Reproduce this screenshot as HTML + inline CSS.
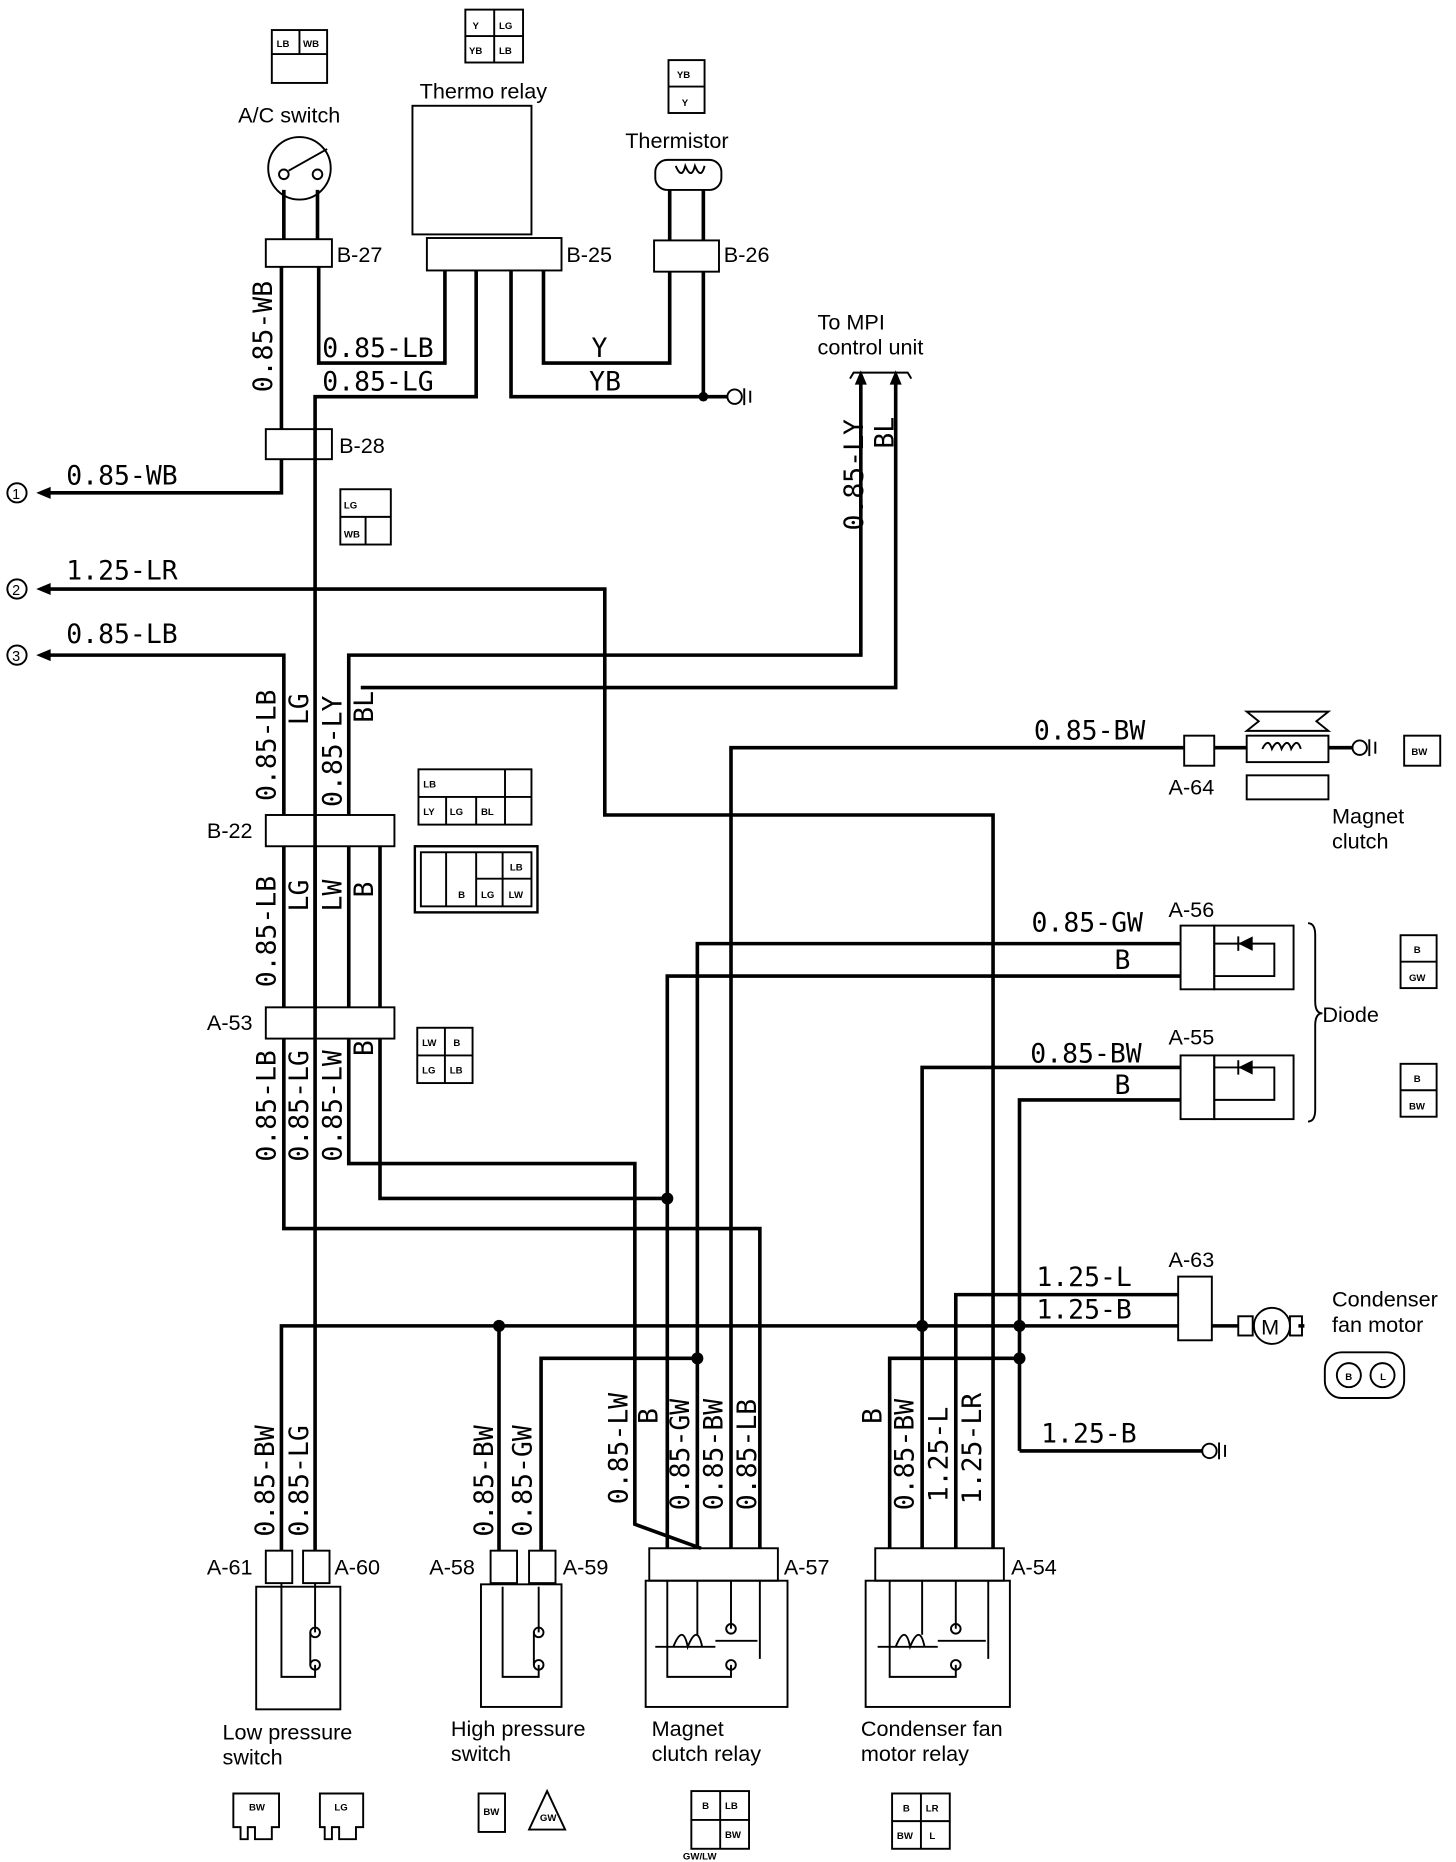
<!DOCTYPE html>
<html><head><meta charset="utf-8"><style>
html,body{margin:0;padding:0;background:#fff}
svg{display:block}
.w{stroke:#000;stroke-width:3;fill:none}
.t{stroke:#000;stroke-width:1.6;fill:none}
.l{font-family:"DejaVu Sans Mono","Liberation Mono",monospace;font-size:22px;fill:#000}
.s{font-family:"Liberation Sans",sans-serif;font-size:18px;fill:#000}
.c{font-family:"Liberation Sans",sans-serif;font-size:8px;font-weight:bold;fill:#000}
</style></head><body>
<svg width="1456" height="1862" viewBox="0 0 1211 1549" xmlns="http://www.w3.org/2000/svg">
<rect width="1211" height="1549" fill="#fff"/>
<g class="t"><rect x="226" y="25" width="46" height="44"/><line x1="226" y1="45" x2="272" y2="45"/><line x1="249" y1="25" x2="249" y2="45"/>
<rect x="387" y="8" width="48" height="44"/><line x1="387" y1="30" x2="435" y2="30"/><line x1="411" y1="8" x2="411" y2="52"/>
<rect x="556" y="50" width="30" height="44"/><line x1="556" y1="72" x2="586" y2="72"/>
<rect x="283" y="407" width="42" height="46"/><line x1="283" y1="430" x2="325" y2="430"/><line x1="304" y1="430" x2="304" y2="453"/></g>
<text class="c" x="230" y="39">LB</text><text class="c" x="252" y="39">WB</text>
<text class="c" x="393" y="24">Y</text><text class="c" x="415" y="24">LG</text><text class="c" x="390" y="45">YB</text><text class="c" x="415" y="45">LB</text>
<text class="c" x="563" y="65">YB</text><text class="c" x="567" y="88">Y</text>
<text class="c" x="286" y="423">LG</text><text class="c" x="286" y="447">WB</text>
<text class="s" x="198" y="102">A/C switch</text>
<text class="s" x="349" y="82">Thermo relay</text>
<text class="s" x="520" y="123">Thermistor</text>
<circle class="t" cx="249" cy="140" r="26" stroke-width="2.5"/>
<circle class="t" cx="236" cy="145" r="4"/><circle class="t" cx="264" cy="145" r="4"/>
<line class="t" x1="240" y1="142" x2="272" y2="124"/>
<rect class="t" x="343" y="88" width="99" height="107" stroke-width="2"/>
<rect class="t" x="355" y="198" width="112" height="27" stroke-width="2"/>
<rect class="t" x="545" y="133" width="55" height="25" rx="10" stroke-width="2"/>
<path class="t" d="M562 138 q5 12 8 0 q5 12 8 0 q5 12 8 0"/>
<rect class="t" x="221" y="199" width="55" height="23" stroke-width="2"/>
<rect class="t" x="544" y="200" width="54" height="26" stroke-width="2"/>
<rect class="t" x="221" y="357" width="55" height="25" stroke-width="2"/>
<text class="s" x="280" y="218">B-27</text><text class="s" x="471" y="218">B-25</text><text class="s" x="602" y="218">B-26</text><text class="s" x="282" y="377">B-28</text>
<g class="w">
<path d="M236 158V199M264 158V199M234 222V357M234 382V410H40"/>
<path d="M265 222V302H370V225M262 382V330H396V225"/>
<path d="M452 225V302H557V226M425 225V330H585V226M557 200V158M585 200V158M585 330H605"/>
<path d="M262 382V1290"/>
<path d="M40 490H503V678H826V1288"/>
<path d="M40 545H236V678M716 318V545H290V678M745 318V572H300"/>
<path d="M236 704V838M262 704V838M290 704V838M316 704V838"/>
<path d="M236 864V1022H632V1288M290 864V968H528V1268L583 1288M316 864V997H555"/>
<path d="M608 1288V622H985M1010 622H1037M1105 622H1125"/>
<path d="M580 1288V785H982M555 1288V812H982"/>
<path d="M767 1288V888H982M848 1207V915H982M848 1207H1000"/>
<path d="M234 1290V1103H850M415 1290V1103M450 1290V1130H580M740 1288V1130H848"/>
<path d="M795 1288V1077H980M848 1103H980M1008 1103H1030M1080 1103H1085"/>
</g>
<g fill="#000"><circle cx="585" cy="330" r="4"/><circle cx="555" cy="997" r="5"/><circle cx="415" cy="1103" r="5"/><circle cx="767" cy="1103" r="5"/><circle cx="848" cy="1103" r="5"/><circle cx="848" cy="1130" r="5"/><circle cx="580" cy="1130" r="5"/>
<path d="M30 410l12-5v10zM30 490l12-5v10zM30 545l12-5v10zM716 308l-5 12h10zM745 308l-5 12h10z"/></g>
<g class="t" stroke-width="2"><circle cx="611" cy="330" r="6"/><line x1="619" y1="323" x2="619" y2="337"/><line x1="624" y1="325" x2="624" y2="335"/>
<circle cx="1006" cy="1207" r="6"/><line x1="1014" y1="1200" x2="1014" y2="1214"/><line x1="1019" y1="1202" x2="1019" y2="1212"/>
<circle cx="1131" cy="622" r="6"/><line x1="1139" y1="615" x2="1139" y2="629"/><line x1="1144" y1="617" x2="1144" y2="627"/>
<polyline points="707,315 710,310 755,310 758,315"/></g>
<circle cx="14" cy="410" r="8" class="t"/><text x="10" y="415" font-size="12" font-family="Liberation Sans">1</text>
<circle cx="14" cy="490" r="8" class="t"/><text x="10" y="495" font-size="12" font-family="Liberation Sans">2</text>
<circle cx="14" cy="545" r="8" class="t"/><text x="10" y="550" font-size="12" font-family="Liberation Sans">3</text>
<text class="s" x="680" y="274">To MPI</text><text class="s" x="680" y="295">control unit</text>
<text class="l" x="268" y="297">0.85-LB</text><text class="l" x="268" y="325">0.85-LG</text>
<text class="l" x="492" y="297">Y</text><text class="l" x="490" y="325">YB</text>
<text class="l" x="55" y="403">0.85-WB</text><text class="l" x="55" y="482">1.25-LR</text><text class="l" x="55" y="535">0.85-LB</text>
<text class="l" x="860" y="615">0.85-BW</text><text class="l" x="858" y="775">0.85-GW</text><text class="l" x="927" y="806">B</text>
<text class="l" x="857" y="884">0.85-BW</text><text class="l" x="927" y="910">B</text>
<text class="l" x="862" y="1070">1.25-L</text><text class="l" x="862" y="1097">1.25-B</text><text class="l" x="866" y="1200">1.25-B</text>
<g class="l">
<text transform="translate(226,280) rotate(-90)" text-anchor="middle">0.85-WB</text>
<text transform="translate(718,395) rotate(-90)" text-anchor="middle">0.85-LY</text>
<text transform="translate(743,360) rotate(-90)" text-anchor="middle">BL</text>
<text transform="translate(229,620) rotate(-90)" text-anchor="middle">0.85-LB</text>
<text transform="translate(256,590) rotate(-90)" text-anchor="middle">LG</text>
<text transform="translate(284,625) rotate(-90)" text-anchor="middle">0.85-LY</text>
<text transform="translate(310,588) rotate(-90)" text-anchor="middle">BL</text>
<text transform="translate(229,775) rotate(-90)" text-anchor="middle">0.85-LB</text>
<text transform="translate(256,745) rotate(-90)" text-anchor="middle">LG</text>
<text transform="translate(284,745) rotate(-90)" text-anchor="middle">LW</text>
<text transform="translate(310,740) rotate(-90)" text-anchor="middle">B</text>
<text transform="translate(229,920) rotate(-90)" text-anchor="middle">0.85-LB</text>
<text transform="translate(256,920) rotate(-90)" text-anchor="middle">0.85-LG</text>
<text transform="translate(284,920) rotate(-90)" text-anchor="middle">0.85-LW</text>
<text transform="translate(310,872) rotate(-90)" text-anchor="middle">B</text>
<text transform="translate(228,1232) rotate(-90)" text-anchor="middle">0.85-BW</text>
<text transform="translate(256,1232) rotate(-90)" text-anchor="middle">0.85-LG</text>
<text transform="translate(410,1232) rotate(-90)" text-anchor="middle">0.85-BW</text>
<text transform="translate(442,1232) rotate(-90)" text-anchor="middle">0.85-GW</text>
<text transform="translate(522,1205) rotate(-90)" text-anchor="middle">0.85-LW</text>
<text transform="translate(547,1178) rotate(-90)" text-anchor="middle">B</text>
<text transform="translate(573,1210) rotate(-90)" text-anchor="middle">0.85-GW</text>
<text transform="translate(601,1210) rotate(-90)" text-anchor="middle">0.85-BW</text>
<text transform="translate(629,1210) rotate(-90)" text-anchor="middle">0.85-LB</text>
<text transform="translate(733,1178) rotate(-90)" text-anchor="middle">B</text>
<text transform="translate(760,1210) rotate(-90)" text-anchor="middle">0.85-BW</text>
<text transform="translate(788,1210) rotate(-90)" text-anchor="middle">1.25-L</text>
<text transform="translate(816,1205) rotate(-90)" text-anchor="middle">1.25-LR</text>
</g>
<rect class="t" x="221" y="678" width="107" height="26" stroke-width="2" fill="#fff"/>
<rect class="t" x="221" y="838" width="107" height="26" stroke-width="2" fill="#fff"/>
<text class="s" x="172" y="697">B-22</text><text class="s" x="172" y="857">A-53</text>
<g class="t"><rect x="348" y="640" width="94" height="46"/><line x1="348" y1="663" x2="442" y2="663"/><line x1="371" y1="663" x2="371" y2="686"/><line x1="396" y1="663" x2="396" y2="686"/><line x1="420" y1="640" x2="420" y2="686"/>
<rect x="345" y="704" width="102" height="55" stroke-width="2"/><rect x="350" y="709" width="92" height="45"/><line x1="418" y1="709" x2="418" y2="754"/><line x1="396" y1="731" x2="442" y2="731"/><line x1="371" y1="709" x2="371" y2="754"/><line x1="396" y1="709" x2="396" y2="754"/>
<rect x="347" y="855" width="46" height="46"/><line x1="347" y1="878" x2="393" y2="878"/><line x1="370" y1="855" x2="370" y2="901"/></g>
<text class="c" x="352" y="655">LB</text><text class="c" x="352" y="678">LY</text><text class="c" x="374" y="678">LG</text><text class="c" x="400" y="678">BL</text>
<text class="c" x="424" y="724">LB</text><text class="c" x="381" y="747">B</text><text class="c" x="400" y="747">LG</text><text class="c" x="423" y="747">LW</text>
<text class="c" x="351" y="870">LW</text><text class="c" x="377" y="870">B</text><text class="c" x="351" y="893">LG</text><text class="c" x="374" y="893">LB</text>
<rect class="t" x="985" y="612" width="25" height="25" stroke-width="2"/><text class="s" x="972" y="661">A-64</text>
<rect class="t" x="1037" y="612" width="68" height="22" stroke-width="2"/><path class="t" d="M1050 623q5-10 8 0q5-10 8 0q5-10 8 0q5-10 8 0"/>
<path class="t" d="M1037 592H1105L1095 600L1105 608H1037L1047 600Z"/>
<rect class="t" x="1037" y="645" width="68" height="20"/>
<text class="s" x="1108" y="685">Magnet</text><text class="s" x="1108" y="706">clutch</text>
<rect class="t" x="1168" y="612" width="30" height="25"/><text class="c" x="1174" y="628">BW</text>
<rect class="t" x="982" y="770" width="28" height="53" stroke-width="2"/><rect class="t" x="1010" y="770" width="66" height="53"/>
<path class="t" d="M1010 785H1060V812H1010"/><path d="M1030 785l12-6v12z" fill="#000"/><line class="t" x1="1030" y1="779" x2="1030" y2="791"/>
<rect class="t" x="982" y="878" width="28" height="53" stroke-width="2"/><rect class="t" x="1010" y="878" width="66" height="53"/>
<path class="t" d="M1010 888H1060V915H1010"/><path d="M1030 888l12-6v12z" fill="#000"/><line class="t" x1="1030" y1="882" x2="1030" y2="894"/>
<text class="s" x="972" y="763">A-56</text><text class="s" x="972" y="869">A-55</text>
<path class="t" d="M1088 768q6 0 6 10v55q0 10 6 10q-6 0-6 10v70q0 10-6 10"/>
<text class="s" x="1100" y="850">Diode</text>
<g class="t"><rect x="1165" y="778" width="30" height="44"/><line x1="1165" y1="800" x2="1195" y2="800"/><rect x="1165" y="885" width="30" height="44"/><line x1="1165" y1="907" x2="1195" y2="907"/></g>
<text class="c" x="1176" y="793">B</text><text class="c" x="1172" y="816">GW</text><text class="c" x="1176" y="900">B</text><text class="c" x="1172" y="923">BW</text>
<rect class="t" x="980" y="1062" width="28" height="53" stroke-width="2"/><text class="s" x="972" y="1054">A-63</text>
<rect class="t" x="1030" y="1095" width="12" height="16"/><circle class="t" cx="1058" cy="1103" r="15" stroke-width="2"/><text class="s" x="1049" y="1110">M</text><rect class="t" x="1073" y="1095" width="10" height="16"/>
<text class="s" x="1108" y="1087">Condenser</text><text class="s" x="1108" y="1108">fan motor</text>
<rect class="t" x="1102" y="1125" width="66" height="38" rx="14" stroke-width="2"/><circle class="t" cx="1122" cy="1144" r="10"/><circle class="t" cx="1150" cy="1144" r="10"/>
<text class="c" x="1119" y="1148">B</text><text class="c" x="1148" y="1148">L</text>
<g class="t" stroke-width="2">
<rect x="221" y="1290" width="22" height="27"/><rect x="252" y="1290" width="22" height="27"/><rect x="213" y="1320" width="70" height="102"/>
<rect x="408" y="1290" width="22" height="27"/><rect x="440" y="1290" width="22" height="27"/><rect x="400" y="1318" width="67" height="102"/>
<rect x="540" y="1288" width="107" height="27"/><rect x="537" y="1315" width="118" height="105"/>
<rect x="728" y="1288" width="107" height="27"/><rect x="720" y="1315" width="120" height="105"/>
</g>
<g class="t" stroke-width="2">
<path d="M234 1317V1395H262V1385M262 1317V1358M258 1358V1385"/><circle cx="262" cy="1358" r="4"/><circle cx="262" cy="1385" r="4"/>
<path d="M418 1320V1395H448V1385M448 1320V1358M444 1358V1385"/><circle cx="448" cy="1358" r="4"/><circle cx="448" cy="1385" r="4"/>
<path d="M555 1315V1395H608V1385M580 1315V1360M608 1315V1355M632 1315V1380"/><path d="M560 1370q8-20 12 0q8-20 12 0" /><line x1="545" y1="1370" x2="595" y2="1370"/><line x1="595" y1="1365" x2="630" y2="1365"/><circle cx="608" cy="1355" r="4"/><circle cx="608" cy="1385" r="4"/>
<path d="M740 1315V1395H795V1385M767 1315V1360M795 1315V1355M822 1315V1380"/><path d="M745 1370q8-20 12 0q8-20 12 0"/><line x1="730" y1="1370" x2="780" y2="1370"/><line x1="780" y1="1365" x2="820" y2="1365"/><circle cx="795" cy="1355" r="4"/><circle cx="795" cy="1385" r="4"/>
</g>
<text class="s" x="172" y="1310">A-61</text><text class="s" x="278" y="1310">A-60</text>
<text class="s" x="357" y="1310">A-58</text><text class="s" x="468" y="1310">A-59</text>
<text class="s" x="652" y="1310">A-57</text><text class="s" x="841" y="1310">A-54</text>
<text class="s" x="185" y="1447">Low pressure</text><text class="s" x="185" y="1468">switch</text>
<text class="s" x="375" y="1444">High pressure</text><text class="s" x="375" y="1465">switch</text>
<text class="s" x="542" y="1444">Magnet</text><text class="s" x="542" y="1465">clutch relay</text>
<text class="s" x="716" y="1444">Condenser fan</text><text class="s" x="716" y="1465">motor relay</text>
<g class="t" stroke-width="1.6">
<path d="M194 1492H232V1520H226V1530H212V1520H206V1530H200V1520H194Z"/><path d="M266 1492H302V1520H296V1530H282V1520H276V1530H270V1520H266Z"/>
<rect x="398" y="1492" width="22" height="32"/><path d="M455 1490L470 1522H440Z"/>
<rect x="575" y="1490" width="48" height="48"/><line x1="575" y1="1514" x2="623" y2="1514"/><line x1="599" y1="1490" x2="599" y2="1538"/>
<rect x="742" y="1492" width="48" height="46"/><line x1="742" y1="1515" x2="790" y2="1515"/><line x1="766" y1="1492" x2="766" y2="1538"/>
</g>
<text class="c" x="207" y="1506">BW</text><text class="c" x="278" y="1506">LG</text><text class="c" x="402" y="1510">BW</text><text class="c" x="449" y="1515">GW</text>
<text class="c" x="584" y="1505">B</text><text class="c" x="603" y="1505">LB</text><text class="c" x="603" y="1529">BW</text><text class="c" x="568" y="1547">GW/LW</text>
<text class="c" x="751" y="1507">B</text><text class="c" x="770" y="1507">LR</text><text class="c" x="746" y="1530">BW</text><text class="c" x="773" y="1530">L</text>
</svg>
</body></html>
